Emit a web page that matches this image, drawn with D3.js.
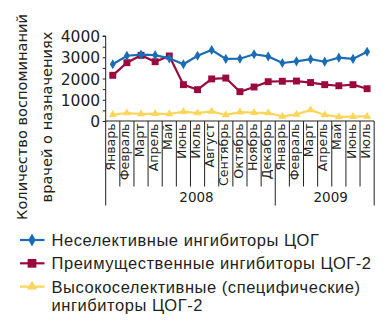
<!DOCTYPE html>
<html>
<head>
<meta charset="utf-8">
<script src="https://cdn.jsdelivr.net/npm/d3@7"></script>
<style>
  body { margin: 0; background: #fff; }
  svg text { font-family: "DejaVu Sans", sans-serif; fill: #231f20; }
  svg .legend text { font-family: "Liberation Sans", Arial, sans-serif; letter-spacing: 0.55px; }
</style>
</head>
<body>
<div id="chart-area"></div>
<script>

// months along the x axis, Jan 2008 .. Jul 2009
let months = ["Январь","Февраль","Март","Апрель","Май","Июнь","Июль","Август",
	"Сентябрь","Октябрь","Ноябрь","Декабрь",
	"Январь","Февраль","Март","Апрель","Май","Июнь","Июль"];

// year groups: label, first and last month index
let years = [
	{label: "2008", from: 0, to: 11},
	{label: "2009", from: 12, to: 18}
];

let yTicks = [0, 1000, 2000, 3000, 4000];

let nonSelective = [2670,3070,3120,3100,2950,2670,3070,3340,2920,2930,3140,3040,
	2730,2810,2910,2790,2980,2920,3260];
let preferential = [2150,2745,3090,2790,3060,1710,1475,1980,2020,1380,1600,1850,
	1870,1880,1810,1710,1660,1710,1520];
let highSelective = [300,375,330,345,330,440,375,455,285,420,390,375,
	220,315,520,285,190,205,220];

let seriesNames = ["Неселективные ингибиторы ЦОГ", "Преимущественные ингибиторы ЦОГ-2",
	"Высокоселективные (специфические)|ингибиторы ЦОГ-2"];

let yTitle = ["Количество воспоминаний", "врачей о назначениях"];

let series = [
	{name: seriesNames[0], values: nonSelective, color: "#1a6cb5", symbol: d3.symbolDiamond, size: 30},
	{name: seriesNames[1], values: preferential, color: "#9b0a3d", symbol: d3.symbolSquare, size: 48},
	{name: seriesNames[2], values: highSelective, color: "#fcd55a", symbol: d3.symbolTriangle, size: 28}
];

let width = 391, height = 324;
let margin = {top: 36, left: 105.7, bottom: 203, right: 17};

let svg = d3.select("#chart-area").append("svg")
	.attr("width", width)
	.attr("height", height);

// scales
let x = d3.scaleBand()
	.domain(months.map((d, i) => i))
	.range([margin.left, margin.left + 19 * 14.13]);

let y = d3.scaleLinear()
	.domain([0, 4000])
	.range([121, margin.top]);

// y axis, minor ticks every 500
let yAxis = d3.axisLeft(y)
	.tickValues(d3.range(0, 4001, 500))
	.tickSize(3)
	.tickFormat(d => yTicks.includes(d) ? d : "");

let yAxisGroup = svg.append("g")
	.attr("transform", `translate(${margin.left}, 0)`)
	.call(yAxis);

yAxisGroup.select(".domain").attr("d", `M-3,${y(4000)}H0V${y(0)}`).attr("stroke", "#231f20");
yAxisGroup.selectAll("line").attr("stroke", "#231f20");
yAxisGroup.selectAll("text")
	.attr("x", -5.5)
	.attr("dy", "0.36em")
	.style("font-size", "15.5px");

// x axis baseline and month separators
let xEnd = x.range()[1];
svg.append("line")
	.attr("x1", margin.left).attr("x2", xEnd)
	.attr("y1", y(0)).attr("y2", y(0))
	.attr("stroke", "#231f20");

let bounds = d3.range(months.length + 1);
let yearEdges = [years[0].from, ...years.map(d => d.to + 1)];

svg.selectAll(".sep").data(bounds)
	.enter().append("line")
	.attr("class", "sep")
	.attr("x1", i => margin.left + i * x.step())
	.attr("x2", i => margin.left + i * x.step())
	.attr("y1", y(0))
	.attr("y2", i => yearEdges.includes(i) ? 205.5 : 186.5)
	.attr("stroke", "#231f20");

// month labels
svg.selectAll(".month").data(months)
	.enter().append("text")
	.attr("class", "month")
	.attr("transform", (d, i) => `translate(${x(i) + x.bandwidth() / 2 + 2.6}, 123.5) rotate(-90)`)
	.attr("text-anchor", "end")
	.style("font-size", "12.5px")
	.text(d => d);

// year labels
svg.selectAll(".year").data(years)
	.enter().append("text")
	.attr("class", "year")
	.attr("x", d => (x(d.from) + x(d.to) + x.bandwidth()) / 2 + 6)
	.attr("y", 202)
	.attr("text-anchor", "middle")
	.style("font-size", "13.5px")
	.text(d => d.label);

// y axis title
svg.selectAll(".ytitle").data(yTitle)
	.enter().append("text")
	.attr("class", "ytitle")
	.attr("transform", (d, i) => `translate(${26.8 + i * 25}, 117) rotate(-90)`)
	.attr("text-anchor", "middle")
	.style("font-size", "14.6px")
	.text(d => d);

// lines and markers
let line = d3.line()
	.x((d, i) => x(i) + x.bandwidth() / 2)
	.y(d => y(d));

series.slice().reverse().forEach(s => {
	svg.append("path")
		.datum(s.values)
		.attr("fill", "none")
		.attr("stroke", s.color)
		.attr("stroke-width", 2.2)
		.attr("d", line);

	svg.selectAll(null).data(s.values)
		.enter().append("path")
		.attr("transform", (d, i) => `translate(${x(i) + x.bandwidth() / 2}, ${y(d)})`)
		.attr("d", d3.symbol().type(s.symbol).size(s.size))
		.attr("fill", s.color);
});

// legend
let legend = svg.selectAll(".legend").data(series)
	.enter().append("g")
	.attr("class", "legend")
	.attr("transform", (d, i) => `translate(0, ${240 + i * 23.3})`);

legend.append("line")
	.attr("x1", 20).attr("x2", 44.5)
	.attr("stroke", d => d.color)
	.attr("stroke-width", 2.2);

legend.append("path")
	.attr("transform", "translate(32, 0)")
	.attr("d", d => d3.symbol().type(d.symbol).size(d.size * 1.6)())
	.attr("fill", d => d.color);

legend.append("text")
	.attr("x", 51.5)
	.attr("y", 6)
	.style("font-size", "16.5px")
	.selectAll("tspan")
	.data(d => d.name.split("|"))
	.enter().append("tspan")
	.attr("x", 51.5)
	.attr("dy", (d, i) => i ? 18.5 : 0)
	.text(d => d);

</script>
</body>
</html>
